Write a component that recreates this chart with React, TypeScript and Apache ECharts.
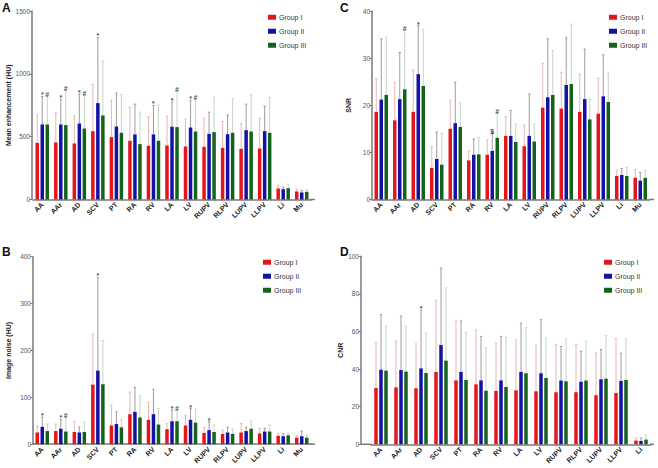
import React, { useEffect, useRef } from "react";
import * as echarts from "echarts";

const categories = ["AA", "AAr", "AD", "SCV", "PT", "RA", "RV", "LA", "LV", "RUPV", "RLPV", "LUPV", "LLPV", "Li", "Mu"];
const categoriesD = ["AA", "AAr", "AD", "SCV", "PT", "RA", "RV", "LA", "LV", "RUPV", "RLPV", "LUPV", "LLPV", "Li"];
const groupNames = ["Group I", "Group II", "Group III"];

// Panel A: Mean enhancement (HU)
const aMean1 = [451, 454, 446, 544, 496, 467, 427, 430, 422, 419, 411, 403, 406, 88, 64];
const aSd1 = [221, 236, 220, 372, 295, 268, 231, 234, 218, 229, 210, 200, 239, 26, 18];
const aMean2 = [597, 597, 605, 767, 581, 518, 518, 579, 573, 523, 520, 552, 544, 82, 56];
const aSd2 = [223, 202, 234, 523, 266, 241, 231, 196, 218, 172, 152, 207, 199, 16, 16];
const aMean3 = [597, 592, 565, 669, 531, 441, 467, 576, 541, 536, 531, 541, 531, 90, 61];
const aSd3 = [223, 279, 266, 433, 305, 254, 284, 287, 258, 279, 271, 290, 281, 32, 16];
const aMark2 = ["*", "*", "*", "*", "", "", "*", "*", "*", "", "", "", "", "", ""];
const aMark3 = ["#", "#", "#", "", "", "", "", "#", "#", "", "", "", "", "", ""];

// Panel B: Image noise (HU)
const bMean1 = [25, 28, 26, 127, 40, 64, 52, 32, 40, 24, 22, 25, 23, 18, 14];
const bSd1 = [14, 15, 22, 108, 43, 47, 37, 12, 22, 12, 8, 19, 11, 5, 4];
const bMean2 = [37, 33, 25, 157, 43, 69, 64, 49, 52, 30, 25, 28, 27, 17, 17];
const bSd2 = [21, 20, 12, 199, 26, 52, 53, 24, 24, 18, 11, 8, 7, 5, 11];
const bMean3 = [28, 27, 26, 128, 36, 57, 42, 49, 46, 26, 22, 33, 27, 19, 14];
const bSd3 = [15, 31, 21, 93, 17, 46, 34, 25, 29, 15, 10, 17, 14, 4, 5];
const bMark2 = ["*", "*", "", "*", "", "", "", "*", "*", "*", "", "", "", "", ""];
const bMark3 = ["", "#", "", "", "", "", "", "#", "", "", "", "", "", "", ""];

// Panel C: SNR
const cMean1 = [18.6, 16.8, 18.6, 6.7, 15.0, 8.3, 9.5, 13.5, 11.3, 19.5, 19.3, 18.6, 18.2, 5.0, 4.6];
const cSd1 = [7.0, 8.0, 8.9, 4.5, 6.1, 2.0, 3.1, 4.1, 4.5, 9.4, 7.7, 8.0, 7.5, 1.2, 1.8];
const cMean2 = [21.2, 21.3, 26.6, 8.6, 16.2, 9.5, 10.3, 13.5, 13.5, 21.7, 24.3, 21.3, 21.9, 5.2, 4.0];
const cSd2 = [12.9, 9.9, 10.3, 5.7, 8.7, 3.3, 3.9, 5.4, 8.9, 12.4, 10.0, 10.6, 8.8, 1.4, 1.7];
const cMean3 = [22.2, 23.4, 24.1, 7.4, 15.4, 9.6, 13.1, 12.2, 12.3, 22.2, 24.5, 17.0, 20.7, 5.0, 4.6];
const cSd3 = [12.3, 12.6, 12.0, 6.6, 5.1, 3.6, 5.2, 3.8, 3.7, 9.4, 12.7, 4.2, 6.3, 1.8, 1.6];
const cMark2 = ["", "", "*", "", "", "", "$", "", "", "", "", "", "", "", ""];
const cMark3 = ["", "#", "", "", "", "", "#", "", "", "", "", "", "", "", ""];

// Panel D: CNR
const dMean1 = [30.0, 30.3, 29.8, 38.5, 34.0, 31.9, 28.4, 28.7, 28.2, 27.7, 27.7, 26.1, 27.3, 2.0];
const dSd1 = [24.3, 24.7, 23.6, 38.1, 32.0, 28.9, 25.5, 26.8, 24.6, 25.3, 25.3, 22.5, 28.9, 1.4];
const dMean2 = [39.7, 39.5, 40.4, 52.8, 38.5, 34.0, 34.0, 38.5, 37.8, 33.9, 33.3, 34.6, 33.7, 1.8];
const dSd2 = [29.3, 28.8, 30.9, 41.0, 27.1, 23.4, 23.4, 26.0, 28.5, 18.1, 16.2, 15.8, 14.7, 1.6];
const dMean3 = [39.2, 38.7, 37.9, 44.5, 34.2, 28.5, 30.5, 37.8, 35.3, 33.5, 33.9, 34.9, 34.2, 2.5];
const dSd3 = [23.6, 24.1, 21.3, 38.7, 25.4, 22.9, 26.4, 24.3, 21.1, 22.5, 21.1, 22.9, 21.8, 2.5];
const dMark2 = ["", "", "*", "", "", "", "", "", "", "", "", "", "", ""];

const yNames = ["Mean enhancement (HU)", "Image noise (HU)", "SNR", "CNR"];
const yMax = [1500, 400, 40, 100];
const yInterval = [500, 100, 10, 20];

const FONT = "Liberation Sans, Arial, Helvetica, sans-serif";
const barColors = ["#e3161d", "#1212a6", "#15621c"];
const errColors = ["#e8b6b6", "#9c9c9c", "#c5d5c5"];
const axisColor = "#7a7a7a";
const markColor = "#222222";

type Panel = {
  cats: string[];
  means: number[][];
  sds: number[][];
  marks: (string[] | null)[];
  grid: { left: number; top: number; width: number; height: number };
  yOffset: number;
  nameGap: number;
  legend: { left: number; top: number };
};

const panels: Panel[] = [
  {
    cats: categories,
    means: [aMean1, aMean2, aMean3],
    sds: [aSd1, aSd2, aSd3],
    marks: [null, aMark2, aMark3],
    grid: { left: 33, top: 11, width: 278, height: 188.5 },
    yOffset: 1,
    nameGap: 20,
    legend: { left: 263, top: 8 },
  },
  {
    cats: categories,
    means: [bMean1, bMean2, bMean3],
    sds: [bSd1, bSd2, bSd3],
    marks: [null, bMark2, bMark3],
    grid: { left: 33, top: 256.7, width: 278, height: 187.5 },
    yOffset: 0,
    nameGap: 21,
    legend: { left: 258, top: 253 },
  },
  {
    cats: categories,
    means: [cMean1, cMean2, cMean3],
    sds: [cSd1, cSd2, cSd3],
    marks: [null, cMark2, cMark3],
    grid: { left: 372, top: 11, width: 277.5, height: 188.5 },
    yOffset: 0,
    nameGap: 20,
    legend: { left: 604, top: 8 },
  },
  {
    cats: categoriesD,
    means: [dMean1, dMean2, dMean3],
    sds: [dSd1, dSd2, dSd3],
    marks: [null, dMark2, null],
    grid: { left: 371, top: 256.3, width: 280, height: 188 },
    yOffset: 10,
    nameGap: 10,
    legend: { left: 599, top: 253 },
  },
];

function buildOption() {
  const grid: any[] = [];
  const xAxis: any[] = [];
  const yAxis: any[] = [];
  const series: any[] = [];
  const legend: any[] = [];

  panels.forEach((p, gi) => {
    grid.push({ ...p.grid, containLabel: false });
    xAxis.push({
      type: "category",
      gridIndex: gi,
      data: p.cats,
      axisLine: { lineStyle: { color: axisColor, width: 1.5 } },
      axisTick: { alignWithLabel: true, length: 2, lineStyle: { color: axisColor } },
      axisLabel: {
        interval: 0,
        rotate: 45,
        fontSize: 7,
        fontWeight: "bold",
        color: "#222",
        fontFamily: FONT,
        margin: 4,
      },
    });
    yAxis.push({
      type: "value",
      gridIndex: gi,
      min: 0,
      max: yMax[gi],
      interval: yInterval[gi],
      offset: p.yOffset,
      name: yNames[gi],
      nameLocation: "middle",
      nameGap: p.nameGap,
      nameTextStyle: { fontSize: 7, fontWeight: "bold", color: "#222", fontFamily: FONT },
      splitLine: { show: false },
      axisLine: { show: true, lineStyle: { color: axisColor, width: 1.5 } },
      axisTick: { show: true, length: 2.5, lineStyle: { color: axisColor } },
      axisLabel: {
        fontSize: 6.5,
        color: "#555",
        fontFamily: FONT,
        margin: 2,
        formatter: (v: number) => String(v),
      },
    });
    legend.push({
      data: groupNames,
      left: p.legend.left,
      top: p.legend.top,
      orient: "vertical",
      icon: "rect",
      itemWidth: 8,
      itemHeight: 5,
      itemGap: 5.5,
      textStyle: { fontSize: 7, color: "#333", fontFamily: FONT, lineHeight: 8.5, padding: [0, 0, 0, -2] },
      selectedMode: false,
    });

    for (let s = 0; s < 3; s++) {
      series.push({
        type: "bar",
        name: groupNames[s],
        xAxisIndex: gi,
        yAxisIndex: gi,
        data: p.means[s],
        barWidth: 3.5,
        barGap: "43%",
        itemStyle: { color: barColors[s] },
        z: 3,
      });
    }
    for (let s = 0; s < 3; s++) {
      const off = (s - 1) * 5;
      const means = p.means[s];
      const sds = p.sds[s];
      series.push({
        type: "custom",
        xAxisIndex: gi,
        yAxisIndex: gi,
        z: 2,
        silent: true,
        data: means.map((m, i) => [i, m, sds[i]]),
        renderItem: (params: any, api: any) => {
          const i = api.value(0);
          const m = api.value(1);
          const sd = api.value(2);
          const p0 = api.coord([i, m]);
          const p1 = api.coord([i, m + sd]);
          const x = p0[0] + off;
          return {
            type: "group",
            children: [
              {
                type: "line",
                shape: { x1: x, y1: p0[1], x2: x, y2: p1[1] },
                style: { stroke: errColors[s], lineWidth: 1 },
              },
              {
                type: "line",
                shape: { x1: x - 1.2, y1: p1[1], x2: x + 1.2, y2: p1[1] },
                style: { stroke: errColors[s], lineWidth: 1 },
              },
            ],
          };
        },
      });
      const marks = p.marks[s];
      if (marks) {
        const pts: any[] = [];
        marks.forEach((mk, i) => {
          if (mk) pts.push({ value: [i, means[i] + sds[i]], mk });
        });
        series.push({
          type: "scatter",
          xAxisIndex: gi,
          yAxisIndex: gi,
          symbolSize: 0,
          silent: true,
          z: 4,
          itemStyle: { color: markColor },
          data: pts,
          label: {
            show: true,
            position: "top",
            distance: 0,
            offset: [off, 2],
            formatter: (prm: any) => prm.data.mk,
            color: markColor,
            fontSize: 7,
            fontWeight: "bold",
            fontFamily: FONT,
          },
        });
      }
    }
  });

  const letter = (t: string, x: number, y: number) => ({
    type: "text",
    left: x,
    top: y,
    style: { text: t, fontSize: 12, fontWeight: "bold", fill: "#111", fontFamily: FONT },
  });
  const hline = (x1: number, x2: number, y: number) => ({
    type: "line",
    shape: { x1, y1: y, x2, y2: y },
    style: { stroke: axisColor, lineWidth: 1.5 },
  });

  const graphic = [
    letter("A", 2, 2),
    letter("C", 340, 2),
    letter("B", 2, 246),
    letter("D", 340, 246),
    hline(310, 315, 199.5),
    hline(310, 315, 444.2),
    hline(649, 654, 199.5),
    hline(361, 372, 444.3),
    hline(650, 654, 444.3),
  ];

  return {
    animation: false,
    backgroundColor: "#ffffff",
    grid,
    xAxis,
    yAxis,
    series,
    legend,
    graphic,
  };
}

export default function App() {
  const ref = useRef<HTMLDivElement>(null);
  useEffect(() => {
    if (!ref.current) return;
    const chart = echarts.init(ref.current, null, { renderer: "svg" });
    chart.setOption(buildOption() as any);
    return () => chart.dispose();
  }, []);
  return (
    <div
      ref={ref}
      style={{ position: "fixed", left: 0, top: 0, width: 658, height: 468, background: "#fff" }}
    />
  );
}
